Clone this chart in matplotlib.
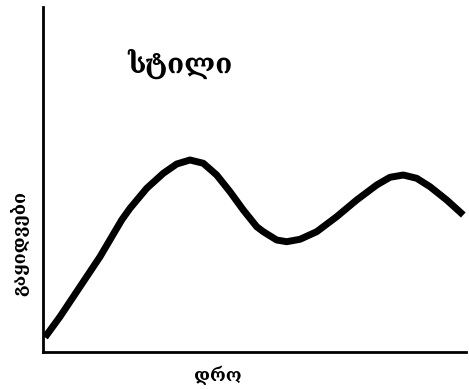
import matplotlib
matplotlib.use("Agg")
import matplotlib.pyplot as plt

# Sales over time (arbitrary units, 0-100 on both axes)
time = [0.47, 4.02, 8.75, 13.48, 18.6, 20.57, 24.52, 28.44, 31.61, 34.75, 37.9, 41.06,
        44.21, 47.35, 50.52, 52.08, 55.25, 57.61, 60.76, 64.7, 69.43, 74.16, 78.89,
        82.03, 85.18, 88.35, 91.49, 95.44, 99.36]
sales = [4.26, 10.23, 18.93, 27.62, 38.26, 41.65, 47.45, 51.8, 54.49, 55.65, 54.7, 51.3,
         46.46, 41.16, 36.32, 34.87, 32.46, 31.97, 32.67, 34.87, 39.22, 44.06, 48.41,
         50.64, 51.3, 50.35, 47.91, 44.06, 39.71]

title_text = "სტილი"
xlabel_text = "დრო"
ylabel_text = "გაყიდვები"

W, H = 469, 389
fig = plt.figure(figsize=(W / 100, H / 100), dpi=100)
ax = fig.add_axes([43 / W, (H - 352) / H, (466 - 43) / W, (352 - 7) / H])

ax.plot(time, sales, color="black", linewidth=5, solid_capstyle="butt", solid_joinstyle="round")
ax.set_xlim(0, 100)
ax.set_ylim(0, 100)
ax.set_xticks([])
ax.set_yticks([])
for side in ("top", "right"):
    ax.spines[side].set_visible(False)
for side in ("left", "bottom"):
    ax.spines[side].set_linewidth(2)

fig.text(180 / W, 1 - 64 / H, title_text, fontsize=20, fontweight="bold",
         ha="center", va="center", family="DejaVu Serif")
fig.text(218 / W, 1 - 376 / H, xlabel_text, fontsize=13, fontweight="bold",
         ha="center", va="center", family="DejaVu Serif")
fig.text(20 / W, 1 - 243 / H, ylabel_text, fontsize=13, fontweight="bold",
         ha="center", va="center", rotation=90, family="DejaVu Serif")

fig.savefig("out.png", dpi=100)
